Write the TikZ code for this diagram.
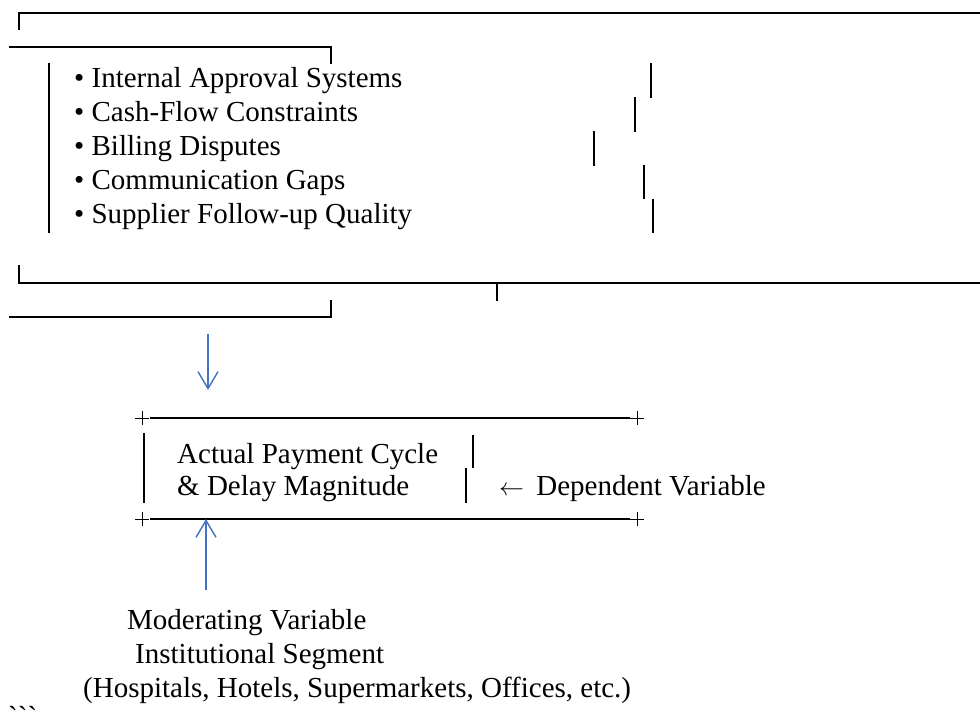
\documentclass[tikz,border=0pt]{standalone}
\usepackage{fontspec}
\setmainfont{Liberation Serif}
\newfontfamily\rawfont[Ligatures=TeXOff]{Liberation Serif}
\usepackage{xcolor}
\usetikzlibrary{arrows.meta}
\definecolor{flowblue}{HTML}{4472C4}

\begin{document}
\begin{tikzpicture}[x=1pt,y=-1pt,
  txt/.style={anchor=base west,inner sep=0pt,font=\fontsize{29}{34}\selectfont},
  rule/.style={line width=2pt},
  bar/.style={line width=2pt},
  cross/.style={line width=0.8pt},
  flow/.style={draw=flowblue,line width=1.4pt,-{Straight Barb[length=17pt,width=20pt]}}]
\useasboundingbox (0,0) rectangle (980,716);

\draw[rule] (19,30) -- (19,13) -- (980,13);
\draw[rule] (9,47) -- (331,47) -- (331,64);
\draw[bar] (49,63) -- (49,233);
\draw[bar] (651,63) -- (651,98);
\draw[bar] (635,97) -- (635,132);
\draw[bar] (594,131) -- (594,166);
\draw[bar] (644,165) -- (644,199);
\draw[bar] (653,199) -- (653,233);

\node (f1) at (74,87) [txt] {• Internal Approval Systems};
\node (f2) at (74,121) [txt] {• Cash-Flow Constraints};
\node (f3) at (74,155) [txt] {• Billing Disputes};
\node (f4) at (74,189) [txt] {• Communication Gaps};
\node (f5) at (74,223) [txt] {• Supplier Follow-up Quality};

\draw[rule] (19,265) -- (19,283) -- (980,283);
\draw[rule] (497,283) -- (497,301);
\draw[rule] (9,317) -- (331,317) -- (331,300);

\coordinate (down1) at (208,334);
\coordinate (down2) at (208,390);
\draw[flow] (down1) -- (down2);

\draw[rule] (150,418) -- (630,418);
\draw[rule] (150,519) -- (630,519);
\draw[cross] (135,418) -- (149,418) (142,411) -- (142,425);
\draw[cross] (630,418) -- (644,418) (637,411) -- (637,425);
\draw[cross] (135,519) -- (149,519) (142,512) -- (142,526);
\draw[cross] (630,519) -- (644,519) (637,512) -- (637,526);
\draw[bar] (144,433) -- (144,503);
\draw[bar] (473,435) -- (473,468);
\draw[bar] (466,468) -- (466,503);

\node (dv1) at (177,463) [txt] {Actual Payment Cycle};
\node (dv2) at (177,495) [txt] {\& Delay Magnitude};
\node (dlab) at (499,495) [txt] {$\leftarrow$\hspace{5pt} Dependent Variable};

\coordinate (up1) at (206,590);
\coordinate (up2) at (206,519);
\draw[flow] (up1) -- (up2);

\node (m1) at (127,629) [txt] {Moderating Variable};
\node (m2) at (135,663) [txt] {Institutional Segment};
\node (m3) at (83,697) [txt] {(Hospitals, Hotels, Supermarkets, Offices, etc.)};
\node (tick) at (8,726) [txt] {\rawfont ```};
\end{tikzpicture}
\end{document}
